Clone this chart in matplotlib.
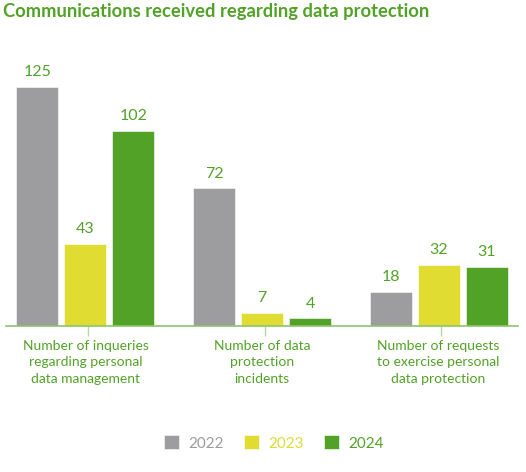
import matplotlib.pyplot as plt
import numpy as np

categories = ["Number of inqueries\nregarding personal\ndata management",
              "Number of data\nprotection\nincidents",
              "Number of requests\nto exercise personal\ndata protection"]
years = ["2022", "2023", "2024"]
v2022 = [125, 72, 18]
v2023 = [43, 7, 32]
v2024 = [102, 4, 31]

colors = ["#9d9d9f", "#e0dc32", "#52a228"]
green = "#52a228"

plt.rcParams['font.family'] = ['Lato', 'DejaVu Sans']

fig = plt.figure(figsize=(5.26, 4.72), dpi=100)
W, H = 526, 472
ax = fig.add_axes([6 / W, (H - 326) / H, (518 - 6) / W, (326 - 60) / H])

x = np.arange(len(categories))
width = 0.238
offset = 0.272
series = [v2022, v2023, v2024]
for i, vals in enumerate(series):
    pos = x + (i - 1) * offset
    bars = ax.bar(pos, vals, width, color=colors[i], edgecolor="white", linewidth=0.4, label=years[i])
    for b, v in zip(bars, vals):
        ax.text(b.get_x() + b.get_width() / 2, v + 7.5, str(v), ha="center", va="center",
                color=green, fontsize=11.5)

ax.set_xlim(-0.45, 2.45)
ax.set_ylim(0, 139)
for s in ["top", "right", "left"]:
    ax.spines[s].set_visible(False)
ax.spines["bottom"].set_color("#8cc46e")
ax.spines["bottom"].set_linewidth(1.2)
ax.set_yticks([])
# labels centred on groups, small tick marks a little to the right
ax.set_xticks(x)
ax.set_xticklabels(categories, color=green, fontsize=10, linespacing=1.45)
ax.tick_params(axis="x", which="major", length=0, pad=10)
ax.set_xticks(x + 0.015, minor=True)
ax.tick_params(axis="x", which="minor", length=7, color="#b5d9a0", width=1)

fig.text(3 / W, 1 - 11 / H, "Communications received regarding data protection",
         color=green, fontsize=13.2, fontweight="bold", ha="left", va="center")

leg = fig.legend(loc="center", bbox_to_anchor=(274 / W, 1 - 443 / H), ncol=3, frameon=False,
                 handlelength=1.0, handleheight=1.0, columnspacing=1.3, handletextpad=0.6,
                 fontsize=11)
for t, c in zip(leg.get_texts(), colors):
    t.set_color(c)

fig.savefig("out.png", dpi=100)
